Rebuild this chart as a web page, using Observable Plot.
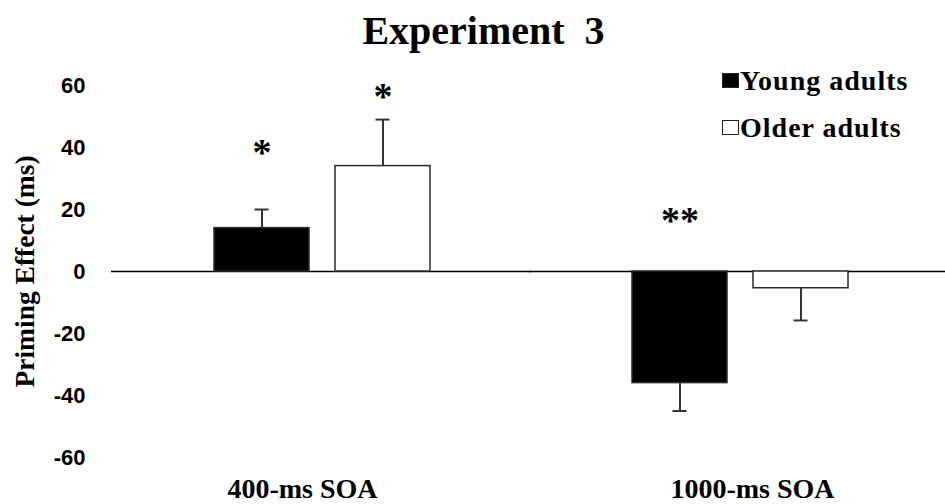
<!DOCTYPE html>
<html>
<head>
<meta charset="utf-8">
<script src="https://cdn.jsdelivr.net/npm/d3@7"></script>
<script src="https://cdn.jsdelivr.net/npm/@observablehq/plot@0.6"></script>
<style>
  body { margin: 0; background: #fff; }
  #wrap { position: relative; width: 945px; height: 504px; overflow: hidden; }
  #title { height: 60px; line-height: 62px; text-align: center; padding-left: 22px; box-sizing: border-box;
    font-family: "Liberation Serif", "Times New Roman", serif; font-weight: bold; font-size: 40px; color: #000; }
  #legend { position: absolute; left: 722px; top: 57px; font-family: "Liberation Serif", serif; font-weight: bold;
    font-size: 28px; letter-spacing: 1px; color: #000; }
  #legend .row { display: flex; align-items: center; height: 47px; }
  #legend .sw { width: 15px; height: 13px; border: 1.5px solid #222; margin-right: 1px; }
  svg [aria-label="y-axis tick label"] { font-family: "Liberation Sans", Arial, sans-serif; font-size: 22px; font-weight: bold; }
  svg [aria-label="y-axis label"] { font-family: "Liberation Serif", serif; font-size: 27.5px; font-weight: bold; }
</style>
</head>
<body>
<div id="wrap">
  <div id="title">Experiment&nbsp; 3</div>
  <div id="chart"></div>
  <div id="legend"></div>
</div>
<script>
// Data
const soa = ["400-ms SOA", "1000-ms SOA"];
const groups = ["Young adults", "Older adults"];
const groupFill = ["#000000", "#ffffff"];
const youngMean = [14, -36];
const olderMean = [34, -5.4];
const youngErrEnd = [20, -45];
const olderErrEnd = [49, -15.8];
const youngSig = ["*", "**"];
const olderSig = ["*", ""];
const youngSigY = [40, 18];
const olderSigY = [58, null];
const yTicks = [-60, -40, -20, 0, 20, 40, 60];

const rows = [];
soa.forEach((s, i) => {
  rows.push({soa: s, group: groups[0], value: youngMean[i], err: youngErrEnd[i], sig: youngSig[i], sigY: youngSigY[i]});
  rows.push({soa: s, group: groups[1], value: olderMean[i], err: olderErrEnd[i], sig: olderSig[i], sigY: olderSigY[i]});
});
const sigRows = rows.filter(d => d.sig);

const catLabel = (label, dx) => Plot.text([label], {
  fx: d => d, text: d => d, frameAnchor: "bottom", lineAnchor: "middle", dy: 32, dx,
  fontSize: 28, fontWeight: "bold", fontFamily: "Liberation Serif, serif", fill: "#000"
});

const chart = Plot.plot({
  width: 945,
  height: 444,
  marginLeft: 112,
  marginRight: -4,
  marginTop: 25,
  marginBottom: 47,
  style: {fontFamily: "Liberation Serif, serif", fontWeight: "bold", color: "#000", background: "#fff", overflow: "hidden"},
  fx: {domain: soa, padding: 0, axis: null},
  x: {domain: groups, axis: null, paddingInner: 0.215, paddingOuter: 0.83},
  y: {domain: [-60, 60], ticks: yTicks, tickSize: 0, tickPadding: 28, label: "Priming Effect (ms)",
      labelAnchor: "center", labelOffset: 99, labelArrow: "none", tickFormat: d => String(d)},
  color: {domain: groups, range: groupFill},
  marks: [
    Plot.ruleY([0], {stroke: "#000", strokeWidth: 1.5, insetLeft: -2}),
    Plot.barY(rows, {fx: "soa", x: "group", y: "value", fill: "group", stroke: "#2a2a2a", strokeWidth: 1.5}),
    Plot.ruleX(rows, {fx: "soa", x: "group", y1: "value", y2: "err", stroke: "#333", strokeWidth: 2}),
    Plot.tickY(rows, {fx: "soa", x: "group", y: "err", stroke: "#333", strokeWidth: 2, inset: 40.5}),
    Plot.text(sigRows, {fx: "soa", x: "group", y: "sigY", text: "sig", fontSize: 38, fontWeight: "bold",
      fontFamily: "Liberation Serif, serif", dy: 5, fill: "#000"}),
    catLabel(soa[0], -20),
    catLabel(soa[1], 12)
  ]
});
document.getElementById("chart").appendChild(chart);

const legend = document.getElementById("legend");
groups.forEach((g, i) => {
  const row = document.createElement("div");
  row.className = "row";
  const sw = document.createElement("div");
  sw.className = "sw";
  sw.style.background = groupFill[i];
  const t = document.createElement("span");
  t.textContent = g;
  row.appendChild(sw);
  row.appendChild(t);
  legend.appendChild(row);
});
</script>
</body>
</html>
